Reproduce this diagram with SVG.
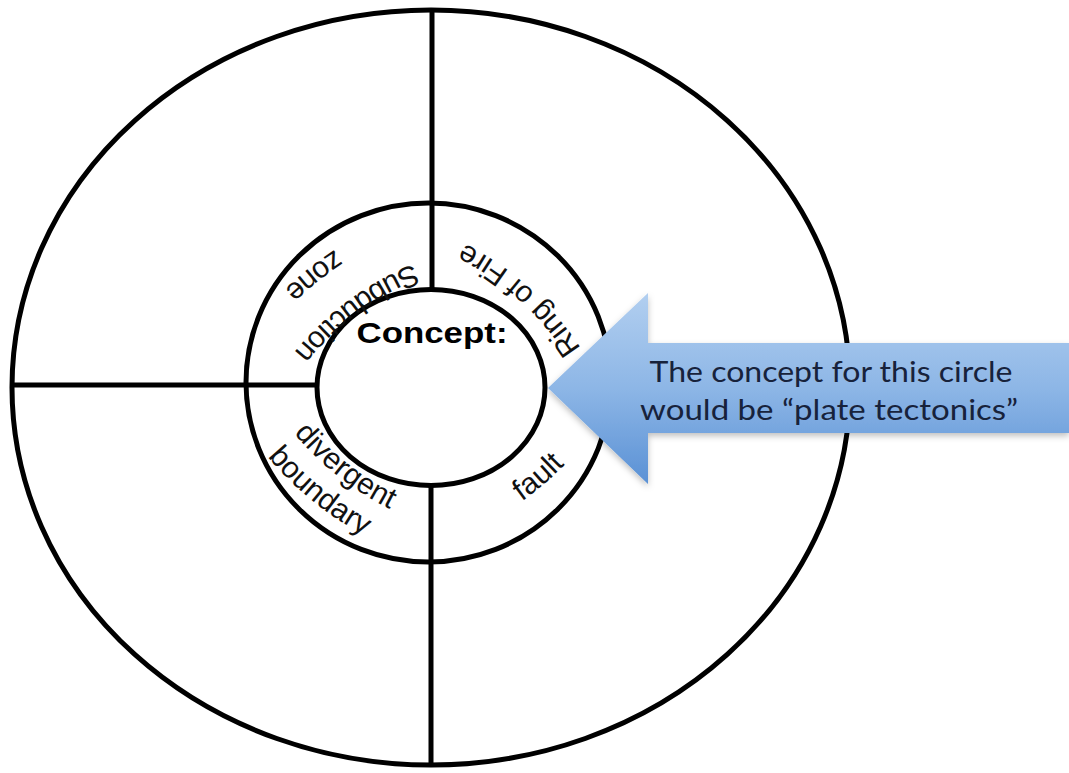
<svg xmlns="http://www.w3.org/2000/svg" width="1069" height="773" viewBox="0 0 1069 773">
  <style>
    .ln { fill: none; stroke: #000; stroke-width: 5; }
    .lbl { font-family: "Liberation Sans", Arial, sans-serif; font-size: 30px; fill: #111; }
    .concept { font-family: "Liberation Sans", Arial, sans-serif; font-size: 30px; font-weight: bold; fill: #000; }
    .note { font-family: Lato, "Open Sans", sans-serif; font-size: 28px; fill: #17223b; }
  </style>
  <defs>
    <linearGradient id="blue" x1="0" y1="0" x2="0" y2="1">
      <stop offset="0" stop-color="#b2cff0"/>
      <stop offset="0.5" stop-color="#8db6e6"/>
      <stop offset="1" stop-color="#5a91d5"/>
    </linearGradient>
    <filter id="shadow" x="-5%" y="-10%" width="115%" height="130%">
      <feDropShadow dx="0" dy="3" stdDeviation="3" flood-color="#000" flood-opacity="0.25"/>
    </filter>
    <path id="p-sub" d="M 446.3 252.6 A 300 300 0 0 0 273.7 380.7"/>
    <path id="p-zone" d="M 358.1 235.6 A 349.6 349.6 0 0 0 265.2 309.7"/>
    <path id="p-ring" d="M 586.4 357.5 A 300 300 0 0 0 454.7 238.6"/>
    <path id="p-div" d="M 276.6 410.6 A 300 300 0 0 0 415.9 520.6"/>
    <path id="p-bound" d="M 250.6 434.8 A 335.3 335.3 0 0 0 388.8 547.5"/>
    <path id="p-fault" d="M 494.9 518.3 A 300 300 0 0 0 585.6 440.4"/>
  </defs>
  <rect x="0" y="0" width="1069" height="773" fill="#fff"/>

  <g id="outer-circle">
    <ellipse class="ln" cx="431" cy="387.5" rx="419" ry="377.5"/>
  </g>

  <g id="connectors">
    <line class="ln" x1="432" y1="10" x2="432" y2="290"/>
    <line class="ln" x1="431" y1="486" x2="431" y2="765"/>
    <line class="ln" x1="12" y1="385" x2="318" y2="385"/>
  </g>

  <g id="middle-ring">
    <ellipse class="ln" cx="428.5" cy="382.5" rx="182.5" ry="179.5" stroke-width="5.5"/>
  </g>

  <g id="concept">
    <ellipse class="ln" cx="431" cy="387.5" rx="114" ry="98" stroke-width="5.5" fill="#fff"/>
    <text class="concept" x="432" y="343" text-anchor="middle" textLength="151" lengthAdjust="spacingAndGlyphs">Concept:</text>
  </g>

  <g id="subduction-zone">
    <text class="lbl"><textPath href="#p-sub" startOffset="50%" text-anchor="middle">Subduction</textPath></text>
    <text class="lbl"><textPath href="#p-zone" startOffset="50%" text-anchor="middle">zone</textPath></text>
  </g>

  <g id="ring-of-fire">
    <text class="lbl"><textPath href="#p-ring" startOffset="50%" text-anchor="middle" letter-spacing="0.3">Ring of Fire</textPath></text>
  </g>

  <g id="divergent-boundary">
    <text class="lbl"><textPath href="#p-div" startOffset="50%" text-anchor="middle">divergent</textPath></text>
    <text class="lbl"><textPath href="#p-bound" startOffset="50%" text-anchor="middle">boundary</textPath></text>
  </g>

  <g id="fault">
    <text class="lbl"><textPath href="#p-fault" startOffset="50%" text-anchor="middle">fault</textPath></text>
  </g>

  <g id="arrow-callout">
    <polygon points="548,388 648,293 648,343 1069,343 1069,433 648,433 648,484" fill="url(#blue)" filter="url(#shadow)"/>
    <text class="note" x="831" y="382" text-anchor="middle" textLength="363" lengthAdjust="spacingAndGlyphs">The concept for this circle</text>
    <text class="note" x="829" y="420" text-anchor="middle" textLength="378" lengthAdjust="spacingAndGlyphs">would be “plate tectonics”</text>
  </g>
</svg>
